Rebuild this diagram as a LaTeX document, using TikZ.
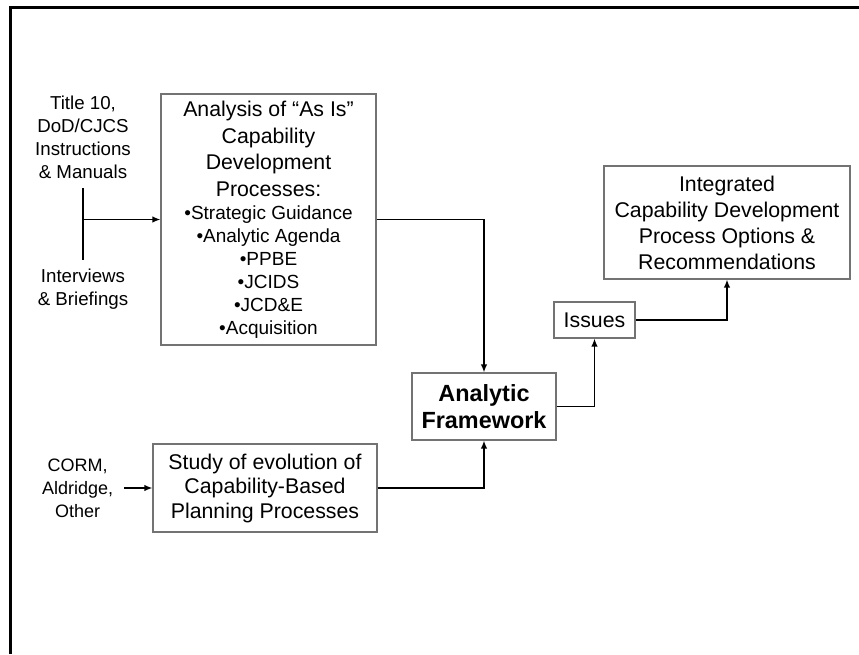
\documentclass[tikz,border=0pt]{standalone}
\usepackage{fontspec}
\setmainfont{Liberation Sans}
\usetikzlibrary{arrows.meta,positioning}
\newcommand\bitem{\fontsize{19}{23}\selectfont •}
\tikzset{proc box/.style={rectangle,draw=black!55,line width=1.2pt,align=center,inner sep=0pt,
                          font=\fontsize{21.3}{26}\selectfont},
         src label/.style={align=center,inner sep=0pt,font=\fontsize{18.7}{23}\selectfont},
         flow/.style={-{Latex[length=8pt,width=6.5pt]},line width=1.4pt}
}
\begin{document}
\begin{tikzpicture}[x=1pt,y=-1pt]
\useasboundingbox (0,0) rectangle (859,654);

% frame of the slide
\draw[line width=3pt] (10,654) -- (10,7) -- (859,7);

\node [proc box,minimum width=215pt,minimum height=251pt,font=\fontsize{21.3}{23}\selectfont] (asis) at (268.5,219.5)
      {Analysis of “As Is”\\[3.5pt]Capability\\[3.5pt]Development\\[3.5pt]Processes:\\
       \bitem Strategic Guidance\\\bitem Analytic Agenda\\\bitem PPBE\\\bitem JCIDS\\\bitem JCD\&E\\\bitem Acquisition};
\node [proc box,minimum width=224pt,minimum height=88pt,font=\fontsize{21.3}{24.5}\selectfont] (study) at (265,488)
      {Study of evolution of\\Capability-Based\\Planning Processes};
\node [proc box,minimum width=144pt,minimum height=67pt,font=\fontsize{23.4}{27}\selectfont\bfseries] (af) at (484,406.5)
      {Analytic\\Framework};
\node [proc box,minimum width=81pt,minimum height=36pt] (issues) at (594.5,320) {Issues};
\node [proc box,minimum width=246pt,minimum height=113pt] (integ) at (727,222.5)
      {Integrated\\Capability Development\\Process Options \&\\Recommendations};

\node [src label] (title10) at (83,137.5) {Title 10,\\DoD/CJCS\\Instructions\\\& Manuals};
\node [src label] (intv) at (83,289.5) {Interviews\\\& Briefings};
\node [src label,left=39pt of study,font=\fontsize{18}{23}\selectfont] (corm) {CORM,\\Aldridge,\\Other};

\coordinate (brtop) at (83,188);
\coordinate (brbot) at (83,260);
\coordinate (fork) at (83,219.5);
\draw[line width=1.4pt] (brtop) -- (brbot);
\draw[flow] (fork) -- (asis.west);
\draw[flow,shorten <=11pt] (corm.east) -- (study.west);

\draw[flow] (asis.east) -| (af.north);
\draw[flow] (study.east) -| (af.south);
\draw[flow] (af.east) -| (issues.south);
\draw[flow] (issues.east) -| (integ.south);
\end{tikzpicture}
\end{document}
